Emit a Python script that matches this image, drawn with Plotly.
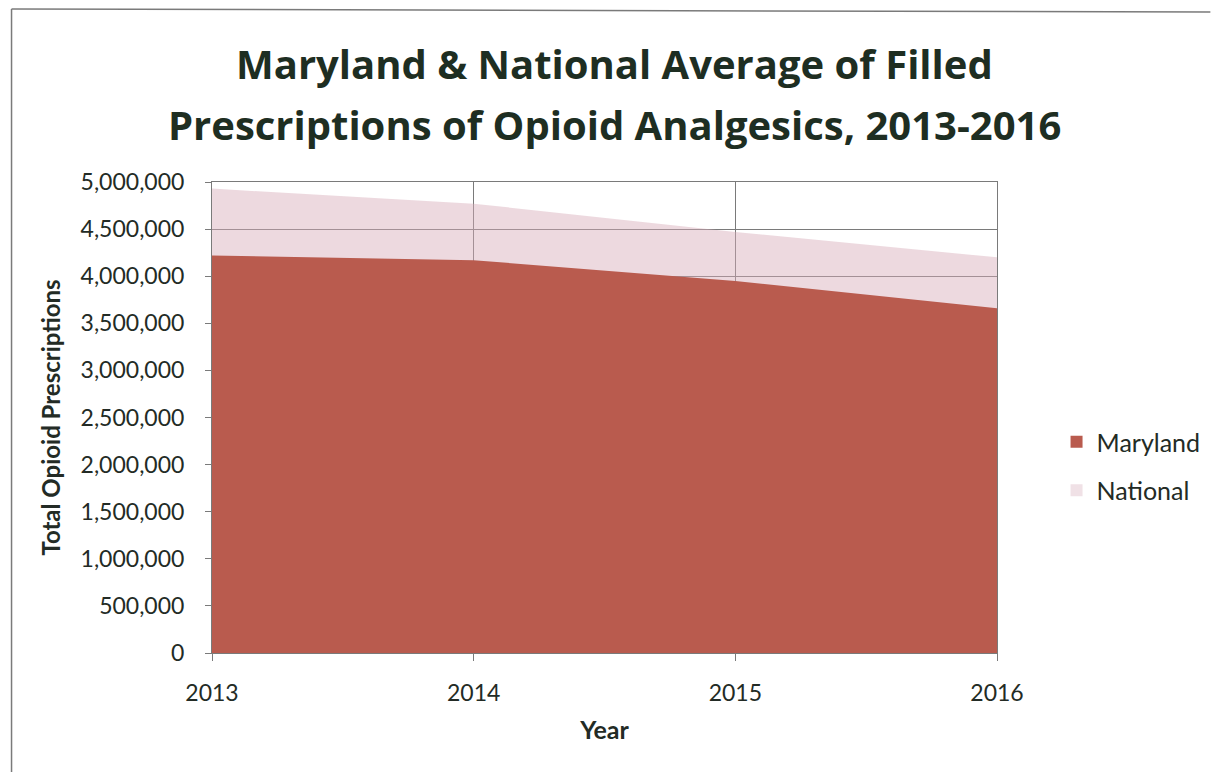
import plotly.graph_objects as go

years = [2013, 2014, 2015, 2016]
maryland = [4220000, 4170000, 3950000, 3660000]
national = [4930000, 4770000, 4470000, 4200000]
y_ticks = list(range(0, 5000001, 500000))
series_names = ["Maryland", "National"]
series_colors = ["#B95B4E", "rgba(214,170,185,0.45)"]
title_lines = ["Maryland & National Average of Filled",
               "Prescriptions of Opioid Analgesics, 2013-2016"]

TXT = "#232b25"
FONT = "Lato"

fig = go.Figure()
fig.add_trace(go.Scatter(
    x=years, y=national, name="National", mode="lines",
    line=dict(width=0, color=series_colors[1]),
    fill="tozeroy", fillcolor=series_colors[1],
    showlegend=False, hoverinfo="x+y+name"))
fig.add_trace(go.Scatter(
    x=years, y=maryland, name="Maryland", mode="lines",
    line=dict(width=0, color=series_colors[0]),
    fill="tozeroy", fillcolor=series_colors[0],
    showlegend=False, hoverinfo="x+y+name"))
# legend entries with square swatches
legend_colors = ["#B95B4E", "#F0E1E6"]
for i, (nm, col) in enumerate(zip(series_names, legend_colors)):
    fig.add_trace(go.Scatter(
        x=[None], y=[None], name=nm, mode="markers",
        marker=dict(symbol="square", size=14, color=col, line=dict(width=0)),
        legendrank=i + 1, legendgroup=nm, hoverinfo="skip"))

L, R, T, B = 212, 215, 182, 120
W, H = 1218, 773
pw, ph = W - L - R, H - T - B
def px(x): return (x - L) / pw
def py(y): return (H - B - y) / ph

annotations = [
    dict(text=f"<b>{t}</b>", xref="paper", yref="paper", x=px(618), y=py(yc),
         xanchor="center", yanchor="middle", showarrow=False,
         font=dict(family="Open Sans", size=40, color="#1e2e22"))
    for t, yc in zip(title_lines, [63, 124])
]

fig.update_layout(
    width=W, height=H,
    margin=dict(l=L, r=R, t=T, b=B),
    paper_bgcolor="white", plot_bgcolor="white",
    font=dict(family=FONT, color=TXT, size=23),
    annotations=annotations,
    legend=dict(x=px(1063), y=py(419), xanchor="left", yanchor="top",
                font=dict(size=25, color=TXT), tracegroupgap=13,
                itemsizing="constant", bgcolor="rgba(0,0,0,0)"),
    xaxis=dict(
        range=[2013, 2016], tickvals=years, ticktext=[str(y) for y in years],
        showgrid=True, gridcolor="#7a7a7a", gridwidth=1,
        showline=True, linecolor="#7a7a7a", linewidth=1, mirror=True,
        ticks="outside", ticklen=7, tickcolor="#7a7a7a",
        ticklabelstandoff=12, zeroline=False,
        title=dict(text="<b>Year</b>", font=dict(size=25, color=TXT), standoff=16)),
    yaxis=dict(
        range=[0, 5000000], tickvals=y_ticks,
        ticktext=[f"{v:,}" for v in y_ticks],
        showgrid=True, gridcolor="#7a7a7a", gridwidth=1,
        showline=True, linecolor="#7a7a7a", linewidth=1, mirror=True,
        ticks="outside", ticklen=6, tickcolor="#7a7a7a",
        ticklabelstandoff=16, zeroline=False,
        title=dict(text="<b>Total Opioid Prescriptions</b>", font=dict(size=24, color=TXT), standoff=13)),
    shapes=[
        dict(type="line", xref="paper", yref="paper", x0=px(10), x1=px(10), y0=py(9), y1=py(772),
             line=dict(color="#7a7a7a", width=1.5)),
        dict(type="line", xref="paper", yref="paper", x0=px(10), x1=px(1218), y0=py(9), y1=py(12),
             line=dict(color="#7a7a7a", width=1.5)),
    ],
)

fig.write_html("out.html")
